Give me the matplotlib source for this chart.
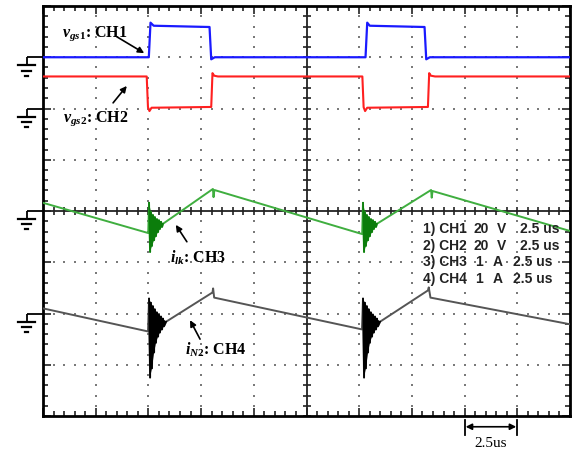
import numpy as np
import matplotlib.pyplot as plt

plt.rcParams['mathtext.fontset'] = 'custom'
plt.rcParams['mathtext.it'] = 'Liberation Serif:italic:bold'
plt.rcParams['mathtext.rm'] = 'Liberation Serif:bold'
plt.rcParams['path.simplify'] = False

# screen: 10 x 8 divisions, 2.5 us/div
us_per_div = 2.5
volt_per_div = 20.0
amp_per_div = 1.0
ground_div = {'CH1': 7, 'CH2': 6, 'CH3': 4, 'CH4': 2}

# CH1 gate voltage (V) vs time (us)
ch1_t = [0, 5.02, 5.10, 5.25, 7.90, 7.98, 8.15, 15.30, 15.38, 15.50, 18.10, 18.18, 18.35, 25]
ch1_v = [0, 0, 13.5, 12.3, 11.8, -0.8, 0, 0, 13.5, 12.3, 11.8, -0.8, 0, 0]

# CH2 gate voltage (V)
ch2_t = [0, 4.92, 4.98, 5.05, 5.15, 7.98, 8.04, 8.12, 8.30,
         15.15, 15.21, 15.28, 15.38, 18.26, 18.32, 18.40, 18.60, 25]
ch2_v = [12.5, 12.5, 0.5, -1.0, 0.3, 0.6, 13.8, 12.8, 12.5,
         12.5, 0.5, -1.0, 0.3, 0.6, 13.8, 12.8, 12.5, 12.5]

# switching instants (us) where the ringing starts
t_sw = [5.03, 15.18]

# CH3 leakage current (A): ringing after turn-on
ring3_dt = [0, 0.05, 0.09, 0.14, 0.19, 0.24, 0.28, 0.33, 0.38, 0.43, 0.47, 0.52, 0.57, 0.62, 0.66]
ring3_i = [0.16, -0.80, -0.02, -0.68, -0.08, -0.57, -0.12, -0.49, -0.16, -0.41, -0.18, -0.35, -0.21, -0.31, -0.25]
ch3_start = ([0, 4.99], [0.16, -0.43])
ch3_mid = ([8.06, 8.09, 8.13, 15.14], [0.43, 0.27, 0.41, -0.45])
ch3_end = ([18.41, 18.44, 18.48, 25], [0.41, 0.26, 0.39, -0.39])

# CH4 secondary current (A)
ring4_dt = [0, 0.05, 0.09, 0.14, 0.19, 0.24, 0.28, 0.33, 0.38, 0.43, 0.47, 0.52, 0.57, 0.62, 0.66, 0.71, 0.81]
ring4_i = [0.29, -1.25, 0.21, -1.07, 0.14, -0.76, 0.08, -0.57, 0.02, -0.45, -0.02, -0.37, -0.06, -0.31, -0.10, -0.25, -0.16]
ch4_start = ([0, 4.98], [0.10, -0.35])
ch4_mid = ([8.04, 8.07, 8.12, 15.13], [0.41, 0.49, 0.31, -0.31])
ch4_end = ([18.26, 18.30, 18.38, 25], [0.45, 0.51, 0.31, -0.21])

legend_rows = [('1) CH1', '20', 'V', '2.5 us'),
               ('2) CH2', '20', 'V', '2.5 us'),
               ('3) CH3', '1', 'A', '2.5 us'),
               ('4) CH4', '1', 'A', '2.5 us')]


def build(start, ring_dt, ring_i, mid, end):
    t = list(start[0]) + [t_sw[0] + d for d in ring_dt] + list(mid[0]) \
        + [t_sw[1] + d for d in ring_dt] + list(end[0])
    v = list(start[1]) + list(ring_i) + list(mid[1]) + list(ring_i) + list(end[1])
    return np.array(t), np.array(v)


def burst(ax, ts, ring_dt, ring_i, base, color, lw):
    x = (ts + np.array(ring_dt)) / us_per_div
    y = base + np.array(ring_i) / amp_per_div
    ax.plot(x, y, color=color, lw=lw, zorder=4)
    # fill between the upper and lower envelope of the ringing
    px = np.concatenate([x[0::2], x[1::2][::-1]])
    py = np.concatenate([y[0::2], y[1::2][::-1]])
    ax.fill(px, py, color=color, lw=0, zorder=4)


def ground(ax, y):
    kw = dict(color='black', lw=1.3, clip_on=False, solid_capstyle='butt')
    ax.plot([-0.31, 0], [y, y], **kw)
    ax.plot([-0.31, -0.31], [y, y - 0.16], **kw)
    ax.plot([-0.47, -0.15], [y - 0.16, y - 0.16], lw=1.6, color='black', clip_on=False)
    ax.plot([-0.40, -0.22], [y - 0.26, y - 0.26], lw=1.6, color='black', clip_on=False)
    ax.plot([-0.34, -0.28], [y - 0.36, y - 0.36], lw=1.6, color='black', clip_on=False)


fig = plt.figure(figsize=(5.81, 4.51), dpi=100)
ax = fig.add_axes([43 / 581, 35 / 451, 527 / 581, 410 / 451])
ax.set_xlim(0, 10)
ax.set_ylim(0, 8)

# graticule
minor_x = np.arange(0, 10.01, 0.2)
minor_y = np.arange(0, 8.01, 0.2)
for gx in [1, 2, 3, 4, 6, 7, 8, 9]:
    ax.scatter(np.full(len(minor_y), gx), minor_y, s=2.6, marker='s', color='#7a7a7a', lw=0, zorder=1)
for gy in [1, 2, 3, 5, 6, 7]:
    ax.scatter(minor_x, np.full(len(minor_x), gy), s=2.6, marker='s', color='#7a7a7a', lw=0, zorder=1)
ax.axhline(4, color='#222222', lw=1.3, zorder=1)
ax.axvline(5, color='#222222', lw=1.3, zorder=1)
ax.plot(minor_x, np.full(len(minor_x), 4), ls='none', marker='|', ms=6, mew=1.2, color='#222222', zorder=1)
ax.plot(np.full(len(minor_y), 5), minor_y, ls='none', marker='_', ms=6, mew=1.2, color='#222222', zorder=1)

ax.set_xticks(range(11))
ax.set_yticks(range(9))
ax.set_xticks(minor_x, minor=True)
ax.set_yticks(minor_y, minor=True)
ax.tick_params(which='both', direction='in', top=True, right=True,
               labelbottom=False, labelleft=False, width=1.2, color='#222222')
ax.tick_params(which='major', length=6)
ax.tick_params(which='minor', length=3.5)
for s in ax.spines.values():
    s.set_linewidth(2)

# traces
ax.plot(np.array(ch1_t) / us_per_div, ground_div['CH1'] + np.array(ch1_v) / volt_per_div,
        color='#1a1aff', lw=1.6, zorder=3)
ax.plot(np.array(ch2_t) / us_per_div, ground_div['CH2'] + np.array(ch2_v) / volt_per_div,
        color='#ff2020', lw=1.5, zorder=3)
t3, i3 = build(ch3_start, ring3_dt, ring3_i, ch3_mid, ch3_end)
ax.plot(t3 / us_per_div, ground_div['CH3'] + i3 / amp_per_div, color='#3fae3f', lw=1.4, zorder=3)
t4, i4 = build(ch4_start, ring4_dt, ring4_i, ch4_mid, ch4_end)
ax.plot(t4 / us_per_div, ground_div['CH4'] + i4 / amp_per_div, color='#555555', lw=1.4, zorder=3)
# darker ringing bursts
for ts in t_sw:
    burst(ax, ts, ring3_dt, ring3_i, ground_div['CH3'], '#0b7d0b', 1.2)
    burst(ax, ts, ring4_dt, ring4_i, ground_div['CH4'], 'black', 1.2)

for ch in ground_div:
    ground(ax, ground_div[ch])

# labels and arrows
lab = dict(family='Liberation Serif', fontweight='bold', fontsize=11.5, color='black', va='baseline')
ax.text(0.36, 7.41, r'$v_{gs1}$: CH1', **lab)
ax.text(0.38, 5.74, r'$v_{gs2}$: CH2', **lab)
ax.text(2.41, 3.00, r'$i_{lk}$: CH3', **lab)
ax.text(2.69, 1.19, r'$i_{N2}$: CH4', **lab)
arr = dict(arrowstyle='-|>', color='black', lw=1.2, mutation_scale=9, shrinkA=0, shrinkB=0)
ax.annotate('', xy=(1.92, 7.08), xytext=(1.40, 7.40), arrowprops=arr)
ax.annotate('', xy=(1.59, 6.44), xytext=(1.33, 6.11), arrowprops=arr)
ax.annotate('', xy=(2.52, 3.73), xytext=(2.73, 3.40), arrowprops=arr)
ax.annotate('', xy=(2.79, 1.87), xytext=(2.98, 1.50), arrowprops=arr)

# channel settings box
box = dict(family='Liberation Sans', fontweight='bold', fontsize=10, color='#222222', va='baseline')
for k, (ch, val, unit, tb) in enumerate(legend_rows):
    y = 3.57 - k * 0.325
    ax.text(7.21, y, ch, **box)
    ax.text(8.16 if val == '20' else 8.20, y, val, **box)
    ax.text(8.61 if unit == 'V' else 8.54, y, unit, **box)
    ax.text(9.05 if k < 2 else 8.92, y, tb, **box)

# time-scale marker below the screen
ax.plot([8, 8], [-0.08, -0.37], color='black', lw=1.3, clip_on=False)
ax.plot([9, 9], [-0.08, -0.37], color='black', lw=1.3, clip_on=False)
ax.annotate('', xy=(8.02, -0.21), xytext=(8.98, -0.21), annotation_clip=False,
            arrowprops=dict(arrowstyle='<|-|>', color='black', lw=1.2, mutation_scale=9,
                            shrinkA=0, shrinkB=0))
ax.text(8.5, -0.53, '2.5us', family='Liberation Serif', fontsize=11, ha='center', va='center',
        clip_on=False)

fig.savefig('out.png', dpi=100)
